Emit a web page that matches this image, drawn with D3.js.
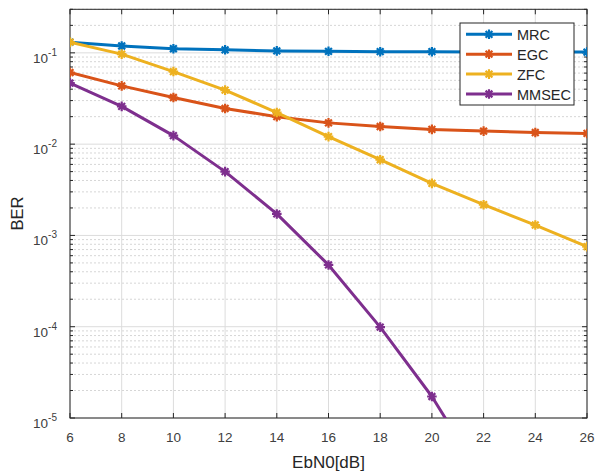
<!DOCTYPE html>
<html>
<head>
<meta charset="utf-8">
<script src="https://cdn.jsdelivr.net/npm/d3@7.9.0/dist/d3.min.js"></script>
<style>
  html, body { margin: 0; padding: 0; background: #fff; }
  svg { display: block; font-family: "Liberation Sans", Arial, sans-serif; }
</style>
</head>
<body>
<svg id="chart" width="596" height="475"></svg>
<script>
// data
const ebn0 = [6, 8, 10, 12, 14, 16, 18, 20, 22, 24, 26];
const mrc = [0.131, 0.119, 0.111, 0.108, 0.105, 0.104, 0.103, 0.103, 0.1025, 0.1025, 0.102];
const egc = [0.0609, 0.0435, 0.0324, 0.0246, 0.0200, 0.0171, 0.0156, 0.0145, 0.0139, 0.0134, 0.0131];
const zfc = [0.131, 0.0968, 0.0624, 0.0391, 0.0222, 0.0121, 0.00675, 0.00372, 0.00217, 0.0013, 0.000754];
const mmsec = [0.0466, 0.0259, 0.0124, 0.0050, 0.00172, 0.000475, 0.000099, 0.0000172, 0.0000021];
const seriesNames = ['MRC', 'EGC', 'ZFC', 'MMSEC'];
const seriesValues = [mrc, egc, zfc, mmsec];
const colors = ['#0072BD', '#D95319', '#EDB120', '#7E2F8E'];
const xTicks = [6, 8, 10, 12, 14, 16, 18, 20, 22, 24, 26];
const yDecades = [-5, -4, -3, -2, -1];

const svg = d3.select('#chart');
const pLeft = 70, pRight = 587, pTop = 9.3, pBottom = 418;

const x = d3.scaleLinear().domain([6, 26]).range([pLeft, pRight]);
const y = d3.scaleLog().domain([1e-5, 0.3]).range([pBottom, pTop]);

svg.append('rect').attr('width', 596).attr('height', 475).attr('fill', '#fff');

svg.append('defs').append('clipPath').attr('id', 'clip')
  .append('rect').attr('x', pLeft).attr('y', pTop)
  .attr('width', pRight - pLeft).attr('height', pBottom - pTop);

// minor values on the log axis
let minors = [];
for (let e = -5; e <= -1; e++) {
  for (let m = 2; m <= 9; m++) {
    const v = m * Math.pow(10, e);
    if (v <= 0.3 + 1e-12) minors.push(v);
  }
}

const grid = svg.append('g');
grid.selectAll('.minor').data(minors).join('line')
  .attr('x1', pLeft).attr('x2', pRight)
  .attr('y1', d => y(d)).attr('y2', d => y(d))
  .attr('stroke', '#d6d6d6').attr('stroke-width', 1)
  .attr('stroke-dasharray', '2,2');
grid.selectAll('.major').data(yDecades).join('line')
  .attr('x1', pLeft).attr('x2', pRight)
  .attr('y1', d => y(Math.pow(10, d))).attr('y2', d => y(Math.pow(10, d)))
  .attr('stroke', '#dcdcdc').attr('stroke-width', 1);
grid.selectAll('.vx').data(xTicks).join('line')
  .attr('x1', d => x(d)).attr('x2', d => x(d))
  .attr('y1', pTop).attr('y2', pBottom)
  .attr('stroke', '#dcdcdc').attr('stroke-width', 1);

// axes box and inner ticks
const axisColor = '#262626';
const ax = svg.append('g').attr('stroke', axisColor).attr('stroke-width', 1);
ax.append('rect').attr('x', pLeft).attr('y', pTop)
  .attr('width', pRight - pLeft).attr('height', pBottom - pTop).attr('fill', 'none');
xTicks.forEach(t => {
  ax.append('line').attr('x1', x(t)).attr('x2', x(t)).attr('y1', pBottom).attr('y2', pBottom - 5);
  ax.append('line').attr('x1', x(t)).attr('x2', x(t)).attr('y1', pTop).attr('y2', pTop + 5);
});
yDecades.forEach(d => {
  const yy = y(Math.pow(10, d));
  ax.append('line').attr('x1', pLeft).attr('x2', pLeft + 5).attr('y1', yy).attr('y2', yy);
  ax.append('line').attr('x1', pRight).attr('x2', pRight - 5).attr('y1', yy).attr('y2', yy);
});
minors.forEach(v => {
  const yy = y(v);
  ax.append('line').attr('x1', pLeft).attr('x2', pLeft + 3).attr('y1', yy).attr('y2', yy);
  ax.append('line').attr('x1', pRight).attr('x2', pRight - 3).attr('y1', yy).attr('y2', yy);
});

// tick labels
svg.append('g').selectAll('text').data(xTicks).join('text')
  .attr('x', d => x(d)).attr('y', 442)
  .attr('text-anchor', 'middle').attr('font-size', 13.5).attr('fill', '#404040')
  .text(d => d);

const yl = svg.append('g').attr('fill', '#404040');
yDecades.forEach(d => {
  const yy = y(Math.pow(10, d));
  const t = yl.append('text').attr('x', 57).attr('y', yy + 10)
    .attr('text-anchor', 'end').attr('font-size', 13.5);
  t.append('tspan').text('10');
  t.append('tspan').attr('dy', -7).attr('font-size', 10).text(String(d));
});

// axis labels
svg.append('text').attr('x', (pLeft + pRight) / 2).attr('y', 468)
  .attr('text-anchor', 'middle').attr('font-size', 17).attr('fill', '#262626')
  .text('EbN0[dB]');
svg.append('text').attr('transform', `translate(23, ${(pTop + pBottom) / 2}) rotate(-90)`)
  .attr('text-anchor', 'middle').attr('font-size', 16.5).attr('fill', '#262626')
  .text('BER');

// asterisk marker (plus + times)
function starPath(r) {
  const k = r * Math.SQRT1_2;
  return `M${-r},0L${r},0M0,${-r}L0,${r}M${-k},${-k}L${k},${k}M${-k},${k}L${k},${-k}`;
}

const line = d3.line().x(d => x(d[0])).y(d => y(d[1]));
const plot = svg.append('g').attr('clip-path', 'url(#clip)');
seriesValues.forEach((vals, i) => {
  const pts = vals.map((v, j) => [ebn0[j], v]);
  plot.append('path').datum(pts).attr('d', line)
    .attr('fill', 'none').attr('stroke', colors[i]).attr('stroke-width', 3)
    .attr('stroke-linejoin', 'round');
  plot.selectAll(null).data(pts).join('path')
    .attr('transform', d => `translate(${x(d[0])},${y(d[1])})`)
    .attr('d', starPath(4.8))
    .attr('fill', 'none').attr('stroke', colors[i]).attr('stroke-width', 2.2);
});

// legend
const lg = svg.append('g');
lg.append('rect').attr('x', 460).attr('y', 23).attr('width', 114).attr('height', 82)
  .attr('fill', '#fff').attr('stroke', axisColor).attr('stroke-width', 1);
seriesNames.forEach((name, i) => {
  const yy = 34.3 + i * 19.9;
  lg.append('line').attr('x1', 466).attr('x2', 512).attr('y1', yy).attr('y2', yy)
    .attr('stroke', colors[i]).attr('stroke-width', 3);
  lg.append('path').attr('transform', `translate(489,${yy})`).attr('d', starPath(4.8))
    .attr('fill', 'none').attr('stroke', colors[i]).attr('stroke-width', 2.2);
  lg.append('text').attr('x', 517).attr('y', yy + 5.5).attr('font-size', 14.5)
    .attr('fill', '#262626').text(name);
});
</script>
</body>
</html>
